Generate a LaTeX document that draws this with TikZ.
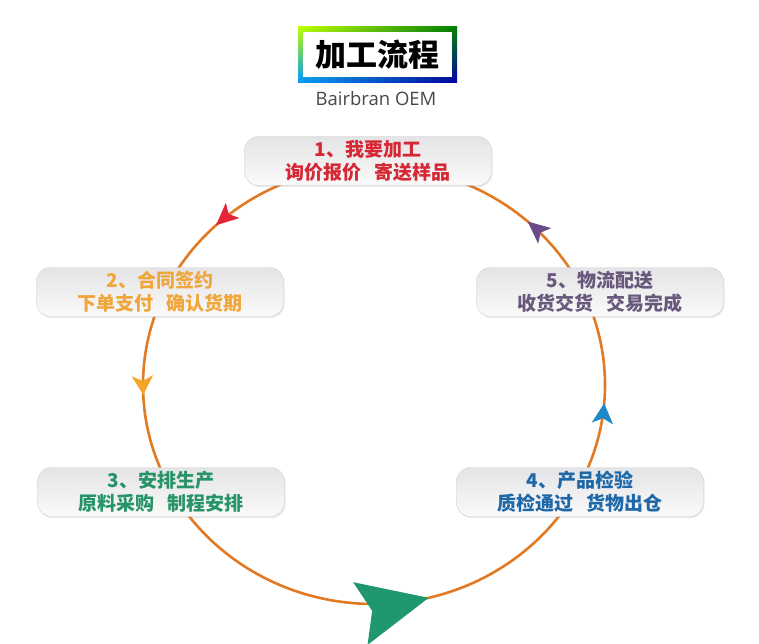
\documentclass[tikz,border=0pt]{standalone}
\usepackage{fontspec}
\setmainfont{Open Sans}
\newfontfamily\cjk[WordSpace=3]{Noto Sans CJK SC}
\usetikzlibrary{arrows.meta,decorations.markings,shadows,shadings}

\definecolor{ringline}{RGB}{226,122,36}
\definecolor{stepred}{RGB}{214,39,52}
\definecolor{steporange}{RGB}{240,166,58}
\definecolor{stepgreen}{RGB}{38,148,104}
\definecolor{stepblue}{RGB}{30,104,168}
\definecolor{steppurple}{RGB}{104,88,124}
\definecolor{tipred}{RGB}{230,36,56}
\definecolor{tiporange}{RGB}{245,166,40}
\definecolor{tipgreen}{RGB}{32,152,110}
\definecolor{tipblue}{RGB}{30,136,200}
\definecolor{tippurple}{RGB}{107,76,138}

\begin{document}
\begin{tikzpicture}[x=1pt,y=-1pt,
    stagebox/.style={draw=gray!35, rounded corners=14pt, minimum width=247pt,
      minimum height=49pt, top color={rgb,255:red,228;green,228;blue,230},
      bottom color={rgb,255:red,250;green,250;blue,250}, align=center,
      font=\cjk\bfseries\fontsize{19}{23}\selectfont,
      drop shadow={opacity=0.18, shadow xshift=1pt, shadow yshift=-1.5pt}},
  ]
    \useasboundingbox (0,0) rectangle (759,644);

    % title
    \shade[upper left=yellow!75!green, upper right=green!50!black,
      lower left=cyan!60!blue, lower right=blue!65!black] (298,27) rectangle (457,83);
    \node[fill=white, minimum width=149pt, minimum height=45pt,
      font=\cjk\bfseries\fontsize{31}{35}\selectfont] (title) at (377.5,55) {加工流程};
    \node[text=black!72, font=\fontsize{18.5}{22}\selectfont] (brand) at (376,99) {Bairbran OEM};

    % ring with arrows
    \draw[ringline, line width=2.6pt, postaction={decorate},
      decoration={markings,
        mark=at position 0.132 with {\arrow{Stealth[length=22pt,width=20pt,inset=5pt,color=tippurple]}},
        mark=at position 0.372 with {\arrow{Stealth[length=22pt,width=20pt,inset=5pt,color=tipred]}},
        mark=at position 0.507 with {\arrow{Stealth[length=19pt,width=21pt,inset=5pt,color=tiporange]}},
        mark=at position 0.789 with {\arrow{Stealth[length=70pt,width=64pt,inset=12pt,color=tipgreen]}},
        mark=at position 0.987 with {\arrow{Stealth[length=20pt,width=21pt,inset=5pt,color=tipblue]}}}]
      (374,385) ellipse [x radius=231pt, y radius=219pt];

    % steps
    \node[stagebox, text=stepred] (s1) at (368,161) {1、我要加工\\询价报价 寄送样品};
    \node[stagebox, text=steporange] (s2) at (160,292) {2、合同签约\\下单支付 确认货期};
    \node[stagebox, text=stepgreen] (s3) at (161,492) {3、安排生产\\原料采购 制程安排};
    \node[stagebox, text=stepblue] (s4) at (580,492) {4、产品检验\\质检通过 货物出仓};
    \node[stagebox, text=steppurple] (s5) at (600,292) {5、物流配送\\收货交货 交易完成};
\end{tikzpicture}
\end{document}
